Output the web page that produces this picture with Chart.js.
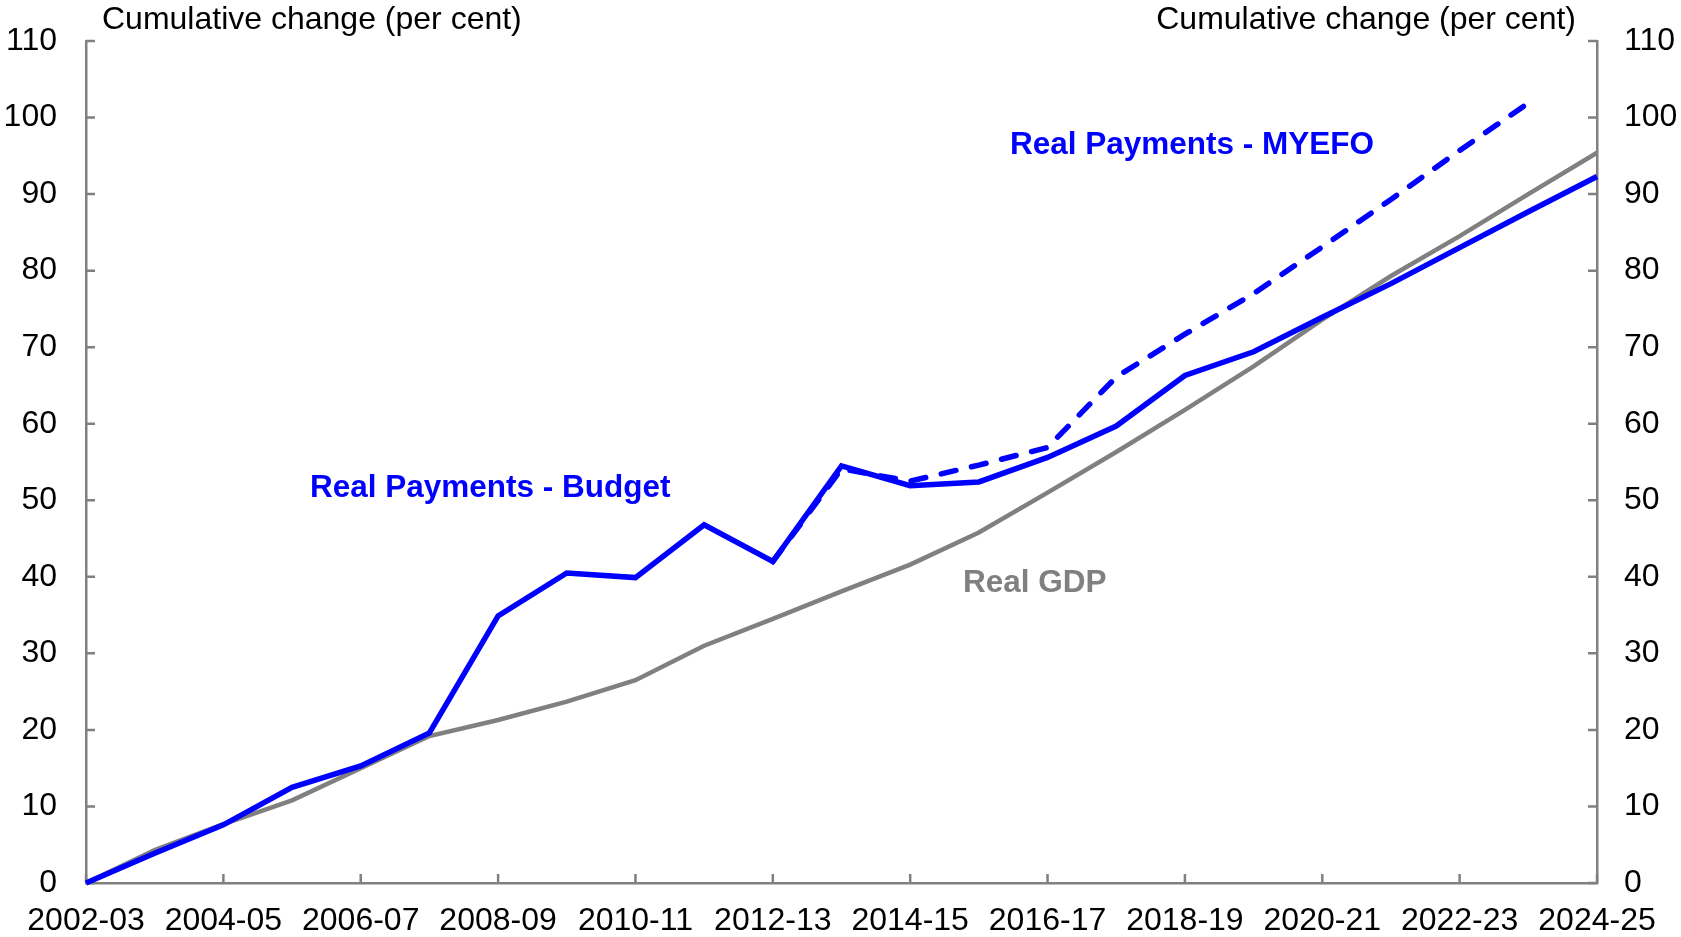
<!DOCTYPE html>
<html>
<head>
<meta charset="utf-8">
<script src="https://cdn.jsdelivr.net/npm/chart.js@4"></script>
<style>
  html, body { margin: 0; padding: 0; background: #fff; }
  #wrap { width: 1681px; height: 937px; position: relative; }
</style>
</head>
<body>
<div id="wrap"><canvas id="chart"></canvas></div>
<script>
  const years = ['2002-03', '2003-04', '2004-05', '2005-06', '2006-07', '2007-08', '2008-09', '2009-10',
    '2010-11', '2011-12', '2012-13', '2013-14', '2014-15', '2015-16', '2016-17', '2017-18', '2018-19',
    '2019-20', '2020-21', '2021-22', '2022-23', '2023-24', '2024-25'];

  const paymentsBudget = [0, 3.9, 7.6, 12.5, 15.3, 19.6, 34.9, 40.5, 39.9, 46.8, 42.0, 54.5, 51.9,
    52.4, 55.6, 59.7, 66.3, 69.4, 73.9, 78.3, 83.0, 87.7, 92.3];
  const paymentsMyefo = [null, null, null, null, null, null, null, null, null, null, 42.0, 54.1, 52.5,
    54.6, 56.9, 66.1, 71.7, 77.0, 83.1, 89.3, 95.7, 101.9, null];
  const realGdp = [0, 4.3, 7.7, 10.8, 15.0, 19.2, 21.3, 23.7, 26.5, 31.0, 34.5, 38.1, 41.6,
    45.8, 51.0, 56.3, 61.8, 67.5, 73.6, 79.3, 84.5, 90.0, 95.4];

  const yMin = 0, yMax = 110, yStep = 10;
  const axisTitle = 'Cumulative change (per cent)';

  const BLUE = '#0000ff';
  const GREY = '#808080';
  const FONT = "'Liberation Sans', Arial, sans-serif";

  // inward tick marks, axis titles and the in-chart series labels
  const decor = {
    id: 'decor',
    beforeDatasetsDraw(chart) {
      const { ctx, chartArea: a, scales } = chart;
      ctx.save();
      ctx.strokeStyle = GREY;
      ctx.lineWidth = 2.5;
      ctx.beginPath();
      for (let v = yMin; v <= yMax; v += yStep) {
        const y = scales.y.getPixelForValue(v);
        ctx.moveTo(a.left, y); ctx.lineTo(a.left + 9, y);
        ctx.moveTo(a.right, y); ctx.lineTo(a.right - 9, y);
      }
      years.forEach((label, i) => {
        if (i % 2) return;
        const x = scales.x.getPixelForValue(i);
        ctx.moveTo(x, a.bottom); ctx.lineTo(x, a.bottom - 9);
      });
      ctx.stroke();
      ctx.restore();
    },
    afterDraw(chart) {
      const { ctx } = chart;
      ctx.save();
      ctx.textBaseline = 'alphabetic';
      ctx.fillStyle = '#000';
      ctx.font = `32px ${FONT}`;
      ctx.textAlign = 'left';
      ctx.fillText(axisTitle, 102, 29);
      ctx.textAlign = 'right';
      ctx.fillText(axisTitle, 1576, 29);

      ctx.font = `bold 31.5px ${FONT}`;
      ctx.textAlign = 'left';
      ctx.fillStyle = BLUE;
      ctx.fillText('Real Payments - Budget', 310, 497);
      ctx.fillText('Real Payments - MYEFO', 1010, 154);
      ctx.fillStyle = GREY;
      ctx.fillText('Real GDP', 963, 592);
      ctx.restore();
    }
  };

  function fixY(width) {
    return scale => {
      scale.width = width;
      scale.paddingTop = 0;
      scale.paddingBottom = 0;
    };
  }

  new Chart(document.getElementById('chart'), {
    type: 'line',
    data: {
      labels: years,
      datasets: [
        {
          label: 'Real Payments - Budget',
          data: paymentsBudget,
          borderColor: BLUE,
          borderWidth: 5.5,
          pointRadius: 0,
          tension: 0,
          clip: false,
          yAxisID: 'y'
        },
        {
          label: 'Real Payments - MYEFO',
          data: paymentsMyefo,
          borderColor: BLUE,
          borderWidth: 5.5,
          borderDash: [15, 16],
          borderCapStyle: 'round',
          pointRadius: 0,
          tension: 0,
          clip: false,
          yAxisID: 'y'
        },
        {
          label: 'Real GDP',
          data: realGdp,
          borderColor: GREY,
          borderWidth: 4.5,
          pointRadius: 0,
          tension: 0,
          clip: false,
          yAxisID: 'y'
        }
      ]
    },
    options: {
      responsive: true,
      maintainAspectRatio: false,
      animation: false,
      layout: { padding: { top: 41, left: 0, right: 0, bottom: 0 } },
      plugins: { legend: { display: false }, tooltip: { enabled: false } },
      scales: {
        x: {
          offset: false,
          grid: { display: false, drawTicks: false },
          border: { display: true, color: GREY, width: 2.5 },
          ticks: {
            autoSkip: false,
            maxRotation: 0,
            padding: 19,
            color: '#000',
            font: { family: FONT, size: 32 },
            callback: (value, index) => (index % 2 ? '' : years[index])
          },
          afterFit: scale => { scale.height = 54; }
        },
        y: {
          position: 'left',
          min: yMin,
          max: yMax,
          grid: { display: false, drawTicks: false },
          border: { display: true, color: GREY, width: 2.5 },
          ticks: { stepSize: yStep, padding: 29, color: '#000', font: { family: FONT, size: 32 } },
          afterFit: fixY(86)
        },
        y2: {
          position: 'right',
          min: yMin,
          max: yMax,
          grid: { display: false, drawTicks: false },
          border: { display: true, color: GREY, width: 2.5 },
          ticks: { stepSize: yStep, padding: 27, color: '#000', font: { family: FONT, size: 32 } },
          afterFit: fixY(84)
        }
      }
    },
    plugins: [decor]
  });
</script>
</body>
</html>
